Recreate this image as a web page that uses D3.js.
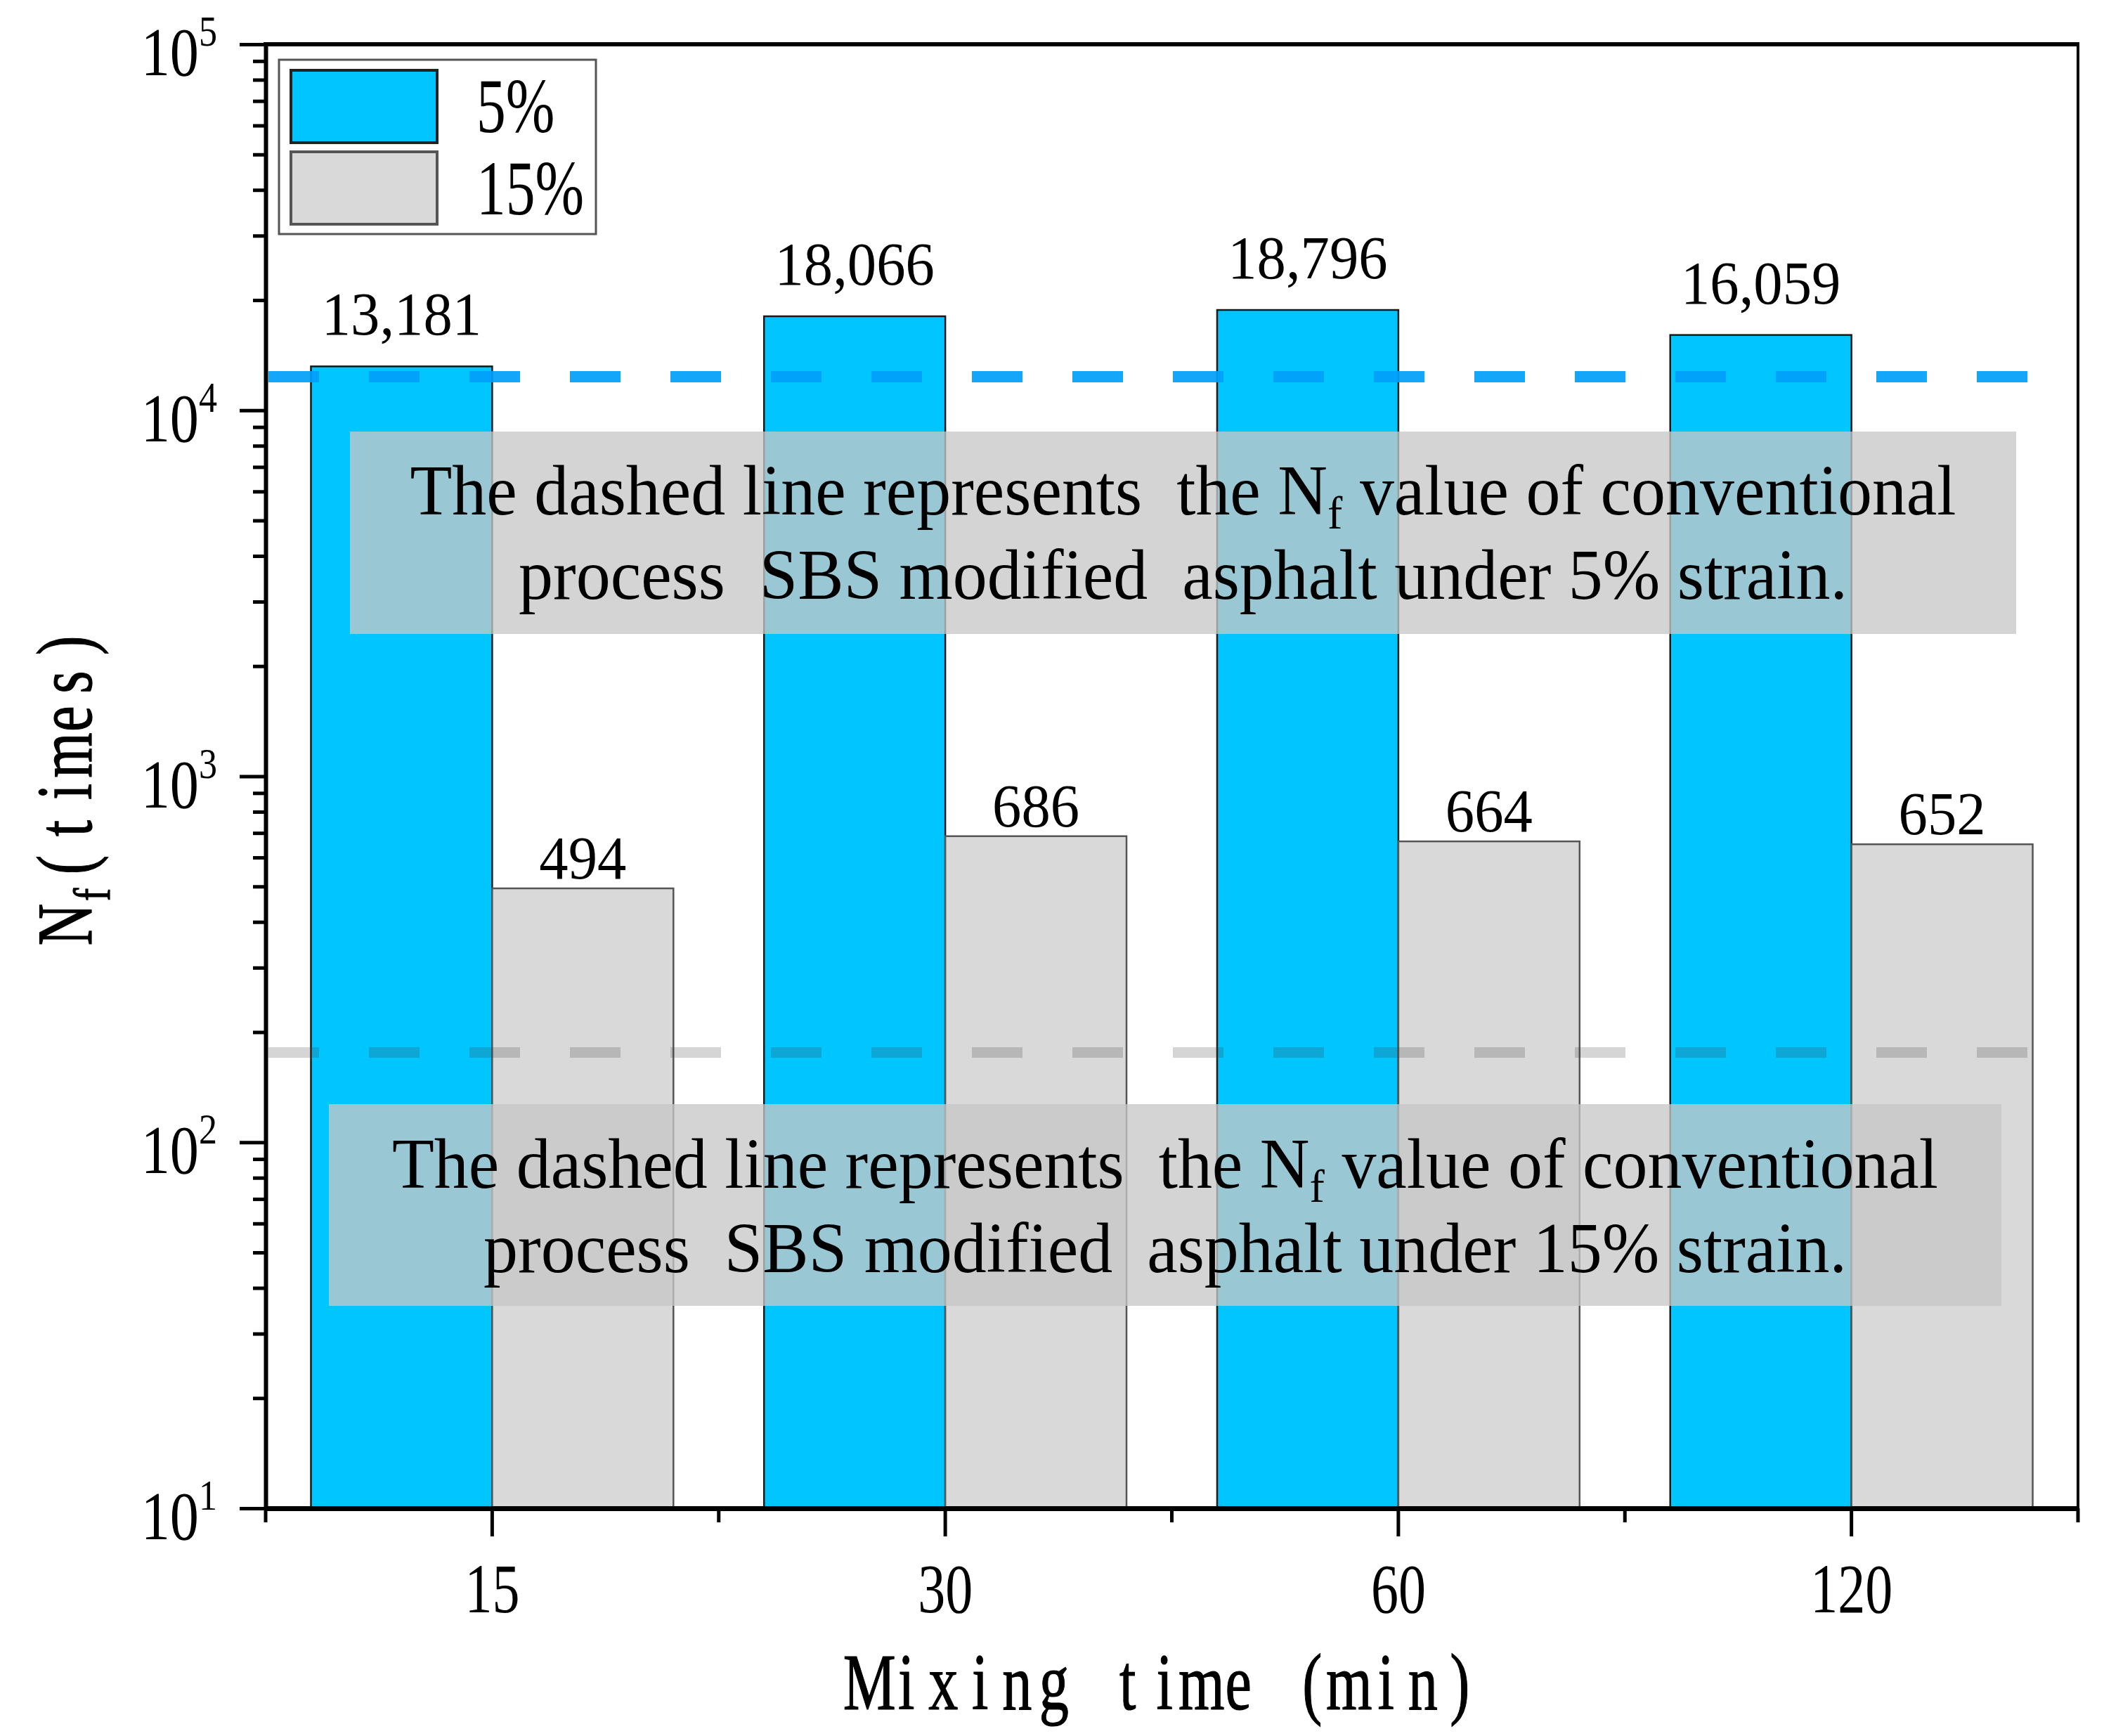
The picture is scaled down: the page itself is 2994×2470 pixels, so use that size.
<!DOCTYPE html>
<html><head><meta charset="utf-8">
<script src="https://cdn.jsdelivr.net/npm/d3@7"></script>
<style>body{margin:0;background:#fff}</style>
</head><body><svg id="c" width="2994" height="2470" xmlns="http://www.w3.org/2000/svg"></svg>
<script>
// ---- data ----
const categories = ["15", "30", "60", "120"];
const seriesNames = ["5%", "15%"];
const values5 = [13181, 18066, 18796, 16059];
const values15 = [494, 686, 664, 652];
const labels5 = ["13,181", "18,066", "18,796", "16,059"];
const labels15 = ["494", "686", "664", "652"];
const refLine5 = 12350;
const refLine15 = 176;
const yTickValues = [10, 100, 1000, 10000, 100000];
const yTickExponents = ["1", "2", "3", "4", "5"];
const xTitle = "Mixing time (min)";
const yTitleMain = "N", yTitleSub = "f", yTitleRest = "(times)";
const note5Line1 = ["The dashed line represents\u00a0 the N", "f", " value of conventional"];
const note5Line2 = "process\u00a0 SBS modified\u00a0 asphalt under 5% strain.";
const note15Line1 = ["The dashed line represents\u00a0 the N", "f", " value of conventional"];
const note15Line2 = "process\u00a0 SBS modified\u00a0 asphalt under 15% strain.";

// ---- layout ----
const L = 378, R = 2957, T = 63, B = 2146;
const serif = "'Liberation Serif','Times New Roman',serif";
const colors = {"5%": "#00c5ff", "15%": "#d9d9d9"};
const strokes = {"5%": "#1a1a1a", "15%": "#555555"};
const labelGap = {"5%": 45, "15%": 14};

const svg = d3.select("#c");
svg.append("rect").attr("width", 2994).attr("height", 2470).attr("fill", "#fff");

const x = d3.scaleBand().domain(categories).range([L, R]);
const xs = d3.scaleBand().domain(seriesNames).range([x.bandwidth() * 0.1, x.bandwidth() * 0.9]);
const y = d3.scaleLog().domain([10, 1e5]).range([B, T]);

const seriesVals = {"5%": values5, "15%": values15};
const seriesLabs = {"5%": labels5, "15%": labels15};
const bars = [];
categories.forEach((c, i) => seriesNames.forEach(s => bars.push({c, s, v: seriesVals[s][i], lab: seriesLabs[s][i]})));

function stext(g, tx, ty, sx, anchor, size, family) {
  return g.append("text")
    .attr("transform", `translate(${tx},${ty}) scale(${sx},1)`)
    .attr("text-anchor", anchor).attr("font-size", size)
    .attr("font-family", family).attr("fill", "#000");
}

// bars
svg.append("g").selectAll("rect").data(bars).join("rect")
  .attr("x", d => x(d.c) + xs(d.s))
  .attr("y", d => y(d.v))
  .attr("width", xs.bandwidth())
  .attr("height", d => B - y(d.v))
  .attr("fill", d => colors[d.s])
  .attr("stroke", d => strokes[d.s])
  .attr("stroke-width", 2.5);

// value labels
const gl = svg.append("g");
bars.forEach(d => {
  stext(gl, x(d.c) + xs(d.s) + xs.bandwidth() / 2, y(d.v) - labelGap[d.s], 0.95, "middle", 87, serif).text(d.lab);
});

// reference dashed lines
svg.append("line").attr("x1", L + 4).attr("x2", R).attr("y1", y(refLine5)).attr("y2", y(refLine5))
  .attr("stroke", "#00a0f8").attr("stroke-opacity", 0.92).attr("stroke-width", 16)
  .attr("stroke-dasharray", "72 71");
svg.append("line").attr("x1", L + 4).attr("x2", R).attr("y1", y(refLine15)).attr("y2", y(refLine15))
  .attr("stroke", "#404040").attr("stroke-opacity", 0.22).attr("stroke-width", 15)
  .attr("stroke-dasharray", "72 71");

// annotation boxes
function noteBox(bx, by, bw, bh, line1, line2, base1, base2) {
  const g = svg.append("g");
  g.append("rect").attr("x", bx).attr("y", by).attr("width", bw).attr("height", bh)
    .attr("fill", "#c7c7c7").attr("fill-opacity", 0.77);
  const cx = bx + bw / 2;
  const t1 = stext(g, cx, base1, 0.97, "middle", 101, serif);
  t1.append("tspan").text(line1[0]);
  t1.append("tspan").attr("font-size", 66).attr("dy", 20).text(line1[1]);
  t1.append("tspan").attr("dy", -20).text(line1[2]);
  stext(g, cx, base2, 0.97, "middle", 101, serif).text(line2);
}
noteBox(498, 614, 2371, 288, note5Line1, note5Line2, 732, 852);
noteBox(468, 1571, 2380, 287, note15Line1, note15Line2, 1690, 1810);

// y axis
const minorY = [];
[10, 100, 1000, 10000].forEach(p => { for (let m = 2; m <= 9; m++) minorY.push(m * p); });
const gy = svg.append("g").attr("transform", `translate(${L},0)`);
gy.call(d3.axisLeft(y).tickValues(yTickValues).tickSize(37).tickSizeOuter(0).tickFormat(""));
gy.append("g").call(d3.axisLeft(y).tickValues(minorY).tickSize(18).tickSizeOuter(0).tickFormat(""))
  .select(".domain").remove();
gy.selectAll(".domain").attr("stroke", "#000").attr("stroke-width", 6);
gy.selectAll(".tick line").attr("stroke", "#000").attr("stroke-width", 5);

const gyl = svg.append("g");
yTickValues.forEach((v, i) => {
  const t = stext(gyl, 309, y(v) + 44, 0.84, "end", 98, serif);
  t.append("tspan").text("10");
  t.append("tspan").attr("font-size", 62).attr("dy", -42).text(yTickExponents[i]);
});

// x axis
const gx = svg.append("g").attr("transform", `translate(0,${B})`);
gx.call(d3.axisBottom(x).tickSize(40).tickSizeOuter(0).tickFormat(""));
gx.selectAll(".domain").attr("stroke", "#000").attr("stroke-width", 7);
gx.selectAll(".tick line").attr("stroke", "#000").attr("stroke-width", 5);
const edges = categories.map(c => x(c)).concat([R]);
gx.selectAll(".minor").data(edges).join("line").attr("class", "minor")
  .attr("x1", d => d).attr("x2", d => d).attr("y1", 0).attr("y2", 20)
  .attr("stroke", "#000").attr("stroke-width", 5);
const gxl = svg.append("g");
categories.forEach(c => {
  stext(gxl, x(c) + x.bandwidth() / 2, 2294, 0.78, "middle", 100, serif).text(c);
});

// frame top & right
svg.append("line").attr("x1", L - 3).attr("x2", R + 2).attr("y1", T).attr("y2", T).attr("stroke", "#000").attr("stroke-width", 6);
svg.append("line").attr("x1", R).attr("x2", R).attr("y1", T).attr("y2", B).attr("stroke", "#000").attr("stroke-width", 4);

// axis titles (fixed-width cells, condensed serif glyphs)
const titleSx = 0.74;
{
  const cell = 52.5, x0 = 1211;
  const xsList = xTitle.split("").map((ch, i) => ((i + 0.5) * cell) / titleSx);
  svg.append("text")
    .attr("transform", `translate(${x0},2432) scale(${titleSx},1)`)
    .attr("text-anchor", "middle").attr("font-size", 114).attr("font-family", serif).attr("fill", "#000")
    .attr("stroke", "#000").attr("stroke-width", 1.2)
    .attr("x", xsList.join(" "))
    .text(xTitle);
}
{
  const cell = 52, subCell = 33, start = -224.5;
  const yt = svg.append("text")
    .attr("transform", `translate(130,1117) rotate(-90) scale(${titleSx},1)`)
    .attr("text-anchor", "middle").attr("font-size", 112).attr("font-family", serif).attr("fill", "#000")
    .attr("stroke", "#000").attr("stroke-width", 1.2);
  yt.append("tspan").attr("x", (start + cell / 2) / titleSx).text(yTitleMain);
  yt.append("tspan").attr("x", (start + cell + subCell / 2) / titleSx).attr("dy", 26).attr("font-size", 74).text(yTitleSub);
  const restX = yTitleRest.split("").map((ch, i) => (start + cell + subCell + (i + 0.5) * cell) / titleSx);
  yt.append("tspan").attr("x", restX.join(" ")).attr("dy", -26).text(yTitleRest);
}

// legend
const lg = svg.append("g");
lg.append("rect").attr("x", 397).attr("y", 85).attr("width", 451).attr("height", 248)
  .attr("fill", "#fff").attr("stroke", "#555").attr("stroke-width", 3);
seriesNames.forEach((s, i) => {
  lg.append("rect").attr("x", 414).attr("y", 100 + i * 116).attr("width", 208).attr("height", 103)
    .attr("fill", colors[s]).attr("stroke", i === 0 ? "#222" : "#555").attr("stroke-width", 4);
  stext(lg, 678, 188 + i * 117, 0.76, "start", 110, serif).text(s);
});
</script>
</body></html>
